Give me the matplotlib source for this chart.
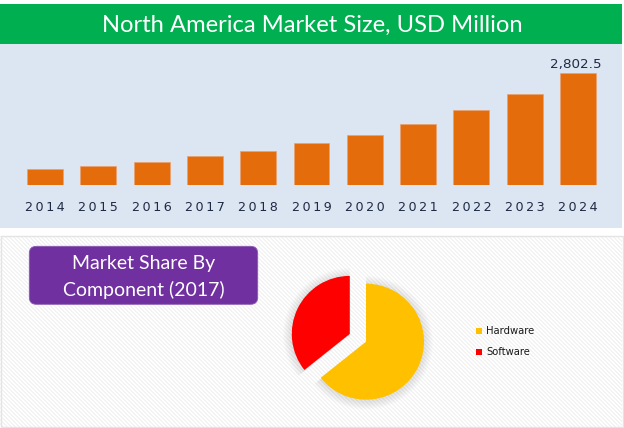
import numpy as np
import matplotlib
matplotlib.use("Agg")
import matplotlib.pyplot as plt
from matplotlib.patches import Rectangle, FancyBboxPatch

years = ["2014","2015","2016","2017","2018","2019","2020","2021","2022","2023","2024"]
market = [394, 477, 585, 720, 846, 1046, 1262, 1523, 1874, 2283, 2802.5]
bar_label = "2,802.5"
segments = ["Hardware", "Software"]
shares = [64.3, 35.7]
seg_colors = ["#FFC000", "#FF0000"]
title = "North America Market Size, USD Million"
subtitle = "Market Share By\nComponent (2017)"

W, H = 624, 428
plt.rcParams['font.family'] = ['Lato', 'DejaVu Sans']
fig = plt.figure(figsize=(W/100, H/100), dpi=100, facecolor="white")

bg = fig.add_axes([0, 0, 1, 1])
bg.set_xlim(0, W); bg.set_ylim(H, 0); bg.axis("off")
bg.add_patch(Rectangle((0, 4), 622, 39.5, fc="#00B050", ec="none"))
bg.add_patch(Rectangle((0, 44), 622, 184, fc="#DCE6F2", ec="none"))
# lower panel with faint diagonal stripes
yy, xx = np.mgrid[0:H, 0:W]
stripes = np.where((xx - yy) % 4 < 2, 0.955, 1.0)
bg.imshow(stripes, cmap="gray", vmin=0, vmax=1, extent=(0, W, H, 0), aspect="auto",
          interpolation="nearest", zorder=0,
          alpha=np.where((yy >= 236) & (yy < 427) & (xx < 622), 1.0, 0.0))
bg.set_xlim(0, W); bg.set_ylim(H, 0)
bg.add_patch(Rectangle((0.5, 235.5), 622, 191, fc="none", ec="#E4E4E4", lw=1, zorder=1))
bg.text(312, 25, title, color="white", fontsize=17.1, ha="center", va="center")
bg.add_patch(FancyBboxPatch((29.3, 246.3), 228.4, 58, boxstyle="round,pad=0,rounding_size=7",
                            fc="#7030A0", ec="#8a5ab0", lw=0.6, mutation_aspect=1, zorder=2))
bg.text(144, 263, subtitle.split("\n")[0], color="white", fontsize=14, ha="center", va="center", zorder=3)
bg.text(144, 290, subtitle.split("\n")[1], color="white", fontsize=14, ha="center", va="center", zorder=3)

# bar chart: baseline at y=185, 25.09 value units per pixel
bx0, bx1, by0, by1 = 18.5, 604.5, 185, 60
ax = fig.add_axes([bx0/W, 1 - by0/H, (bx1-bx0)/W, (by0-by1)/H])
ax.patch.set_alpha(0)
x = np.arange(len(years))
ax.bar(x, market, width=0.675, color="#E46C0A", edgecolor="#E9A070", linewidth=0.5)
ax.set_xlim(-0.5, len(years)-0.5)
ax.set_ylim(0, (by0-by1)*25.09)
ax.set_xticks(x, ["\u2009".join(y) for y in years], family=['DejaVu Sans'], fontsize=9.2, color="#1F2A44")
ax.tick_params(axis="x", length=0, pad=11.6)
ax.set_yticks([])
for s in ax.spines.values():
    s.set_visible(False)
ax.annotate(bar_label, (x[-1], market[-1]), xytext=(-1.8, 1.5), textcoords="offset points",
            ha="center", va="bottom", fontsize=9.7, color="#1F2A44", family=['DejaVu Sans'])

# pie: hardware centre at (366, 341.7), radius 58 px
size = 220
cx, cy = 366, 341.7
pa = fig.add_axes([(cx-size/2)/W, 1-(cy+size/2)/H, size/W, size/H])
pa.patch.set_alpha(0)
R = 58
explode = [0, 18]
# soft shadow: stacks of faint, slightly larger pies behind
for grow in np.linspace(9, 1, 9):
    wedges, _ = pa.pie(shares, radius=R+grow, center=(0, -1), startangle=90, counterclock=False,
                       explode=explode, colors=["#000000"]*2, frame=True)
    for w in wedges:
        w.set_alpha(0.012)
wedges, _ = pa.pie(shares, radius=R, center=(0, 0), startangle=90, counterclock=False,
                   explode=explode, colors=seg_colors, frame=True)
pa.set_xlim(-size/2, size/2); pa.set_ylim(-size/2, size/2)
pa.set_aspect("equal")
pa.axis("off")

# legend
leg_y = [330.5, 352]
for lab, col, ly in zip(segments, seg_colors, leg_y):
    bg.add_patch(Rectangle((476, ly-3), 6, 6, fc=col, ec="none", zorder=3))
    bg.text(486, ly, lab, fontsize=7.2, ha="left", va="center", color="#1a1a1a",
            family=['DejaVu Sans'], zorder=3)

fig.savefig("out.png", dpi=100)
